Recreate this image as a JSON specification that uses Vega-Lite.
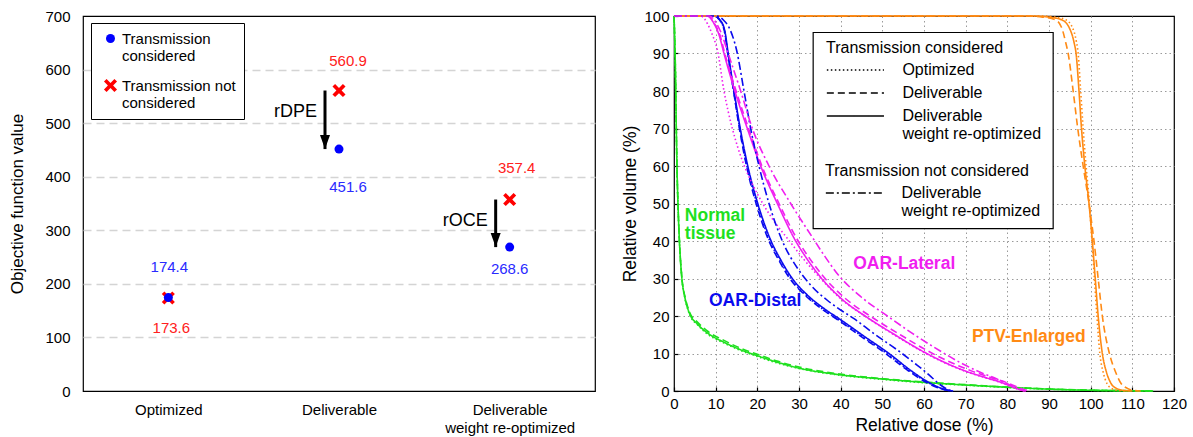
{
  "$schema": "https://vega.github.io/schema/vega-lite/v6.json",
  "padding": {"left": 8, "top": 8, "right": 5, "bottom": 0},
  "config": {
    "font": "Liberation Sans",
    "view": {"stroke": "black", "strokeWidth": 1.2},
    "axis": {"domain": false, "ticks": false, "labelColor": "black", "titleColor": "black", "titleFontWeight": "normal", "labelFontSize": 15, "labelOverlap": false}
  },
  "datasets": {
    "obj": [
      {"stage": "Optimized", "trans": "Transmission not considered", "value": 173.6},
      {"stage": "Deliverable", "trans": "Transmission not considered", "value": 560.9},
      {"stage": "Deliverable weight re-optimized", "trans": "Transmission not considered", "value": 357.4},
      {"stage": "Optimized", "trans": "Transmission considered", "value": 174.4},
      {"stage": "Deliverable", "trans": "Transmission considered", "value": 451.6},
      {"stage": "Deliverable weight re-optimized", "trans": "Transmission considered", "value": 268.6}
    ],
    "arrows": [
      {"stage": "Deliverable", "from": 560.9, "to": 451.6, "name": "rDPE"},
      {"stage": "Deliverable weight re-optimized", "from": 357.4, "to": 268.6, "name": "rOCE"}
    ],
    "box": [{"x1": 33.4, "x2": 91, "y1": 43.3, "y2": 95.6}],
    "dvhlab": [
      {"roi": "NT", "text": "Normal", "dose": 2.6, "vol": 46.8},
      {"roi": "NT", "text": "tissue", "dose": 2.6, "vol": 42},
      {"roi": "OD", "text": "OAR-Distal", "dose": 8.4, "vol": 23.9},
      {"roi": "OL", "text": "OAR-Lateral", "dose": 43, "vol": 34},
      {"roi": "PTV", "text": "PTV-Enlarged", "dose": 71.5, "vol": 14.5}
    ],
    "dvh": [
      {"roi":"NT","plan":"reopt","dose":0,"vol":100},{"roi":"NT","plan":"reopt","dose":0.15,"vol":95},{"roi":"NT","plan":"reopt","dose":0.35,"vol":85},{"roi":"NT","plan":"reopt","dose":0.55,"vol":70},{"roi":"NT","plan":"reopt","dose":0.75,"vol":58},{"roi":"NT","plan":"reopt","dose":0.95,"vol":50},{"roi":"NT","plan":"reopt","dose":1.3,"vol":40},{"roi":"NT","plan":"reopt","dose":1.9,"vol":30},{"roi":"NT","plan":"reopt","dose":2.6,"vol":25},{"roi":"NT","plan":"reopt","dose":3.3,"vol":22},{"roi":"NT","plan":"reopt","dose":4,"vol":20},{"roi":"NT","plan":"reopt","dose":5.5,"vol":18},{"roi":"NT","plan":"reopt","dose":8,"vol":15.5},{"roi":"NT","plan":"reopt","dose":12,"vol":13},{"roi":"NT","plan":"reopt","dose":16,"vol":11},{"roi":"NT","plan":"reopt","dose":20,"vol":9.4},{"roi":"NT","plan":"reopt","dose":25,"vol":7.6},{"roi":"NT","plan":"reopt","dose":30,"vol":6.1},{"roi":"NT","plan":"reopt","dose":40,"vol":4.3},{"roi":"NT","plan":"reopt","dose":50,"vol":3.2},{"roi":"NT","plan":"reopt","dose":60,"vol":2.3},{"roi":"NT","plan":"reopt","dose":70,"vol":1.6},{"roi":"NT","plan":"reopt","dose":80,"vol":1},{"roi":"NT","plan":"reopt","dose":90,"vol":0.5},{"roi":"NT","plan":"reopt","dose":100,"vol":0.2},{"roi":"NT","plan":"reopt","dose":110,"vol":0.05},{"roi":"NT","plan":"reopt","dose":115,"vol":0},
      {"roi":"NT","plan":"del","dose":0,"vol":100},{"roi":"NT","plan":"del","dose":0.15,"vol":95},{"roi":"NT","plan":"del","dose":0.35,"vol":85},{"roi":"NT","plan":"del","dose":0.55,"vol":70},{"roi":"NT","plan":"del","dose":0.75,"vol":58},{"roi":"NT","plan":"del","dose":0.95,"vol":50},{"roi":"NT","plan":"del","dose":1.3,"vol":40},{"roi":"NT","plan":"del","dose":1.9,"vol":30},{"roi":"NT","plan":"del","dose":2.6,"vol":25.3},{"roi":"NT","plan":"del","dose":3.3,"vol":22.4},{"roi":"NT","plan":"del","dose":4,"vol":20.4},{"roi":"NT","plan":"del","dose":5.5,"vol":18.5},{"roi":"NT","plan":"del","dose":8,"vol":16},{"roi":"NT","plan":"del","dose":12,"vol":13.5},{"roi":"NT","plan":"del","dose":16,"vol":11.4},{"roi":"NT","plan":"del","dose":20,"vol":9.8},{"roi":"NT","plan":"del","dose":25,"vol":7.9},{"roi":"NT","plan":"del","dose":30,"vol":6.4},{"roi":"NT","plan":"del","dose":40,"vol":4.5},{"roi":"NT","plan":"del","dose":50,"vol":3.3},{"roi":"NT","plan":"del","dose":60,"vol":2.4},{"roi":"NT","plan":"del","dose":70,"vol":1.7},{"roi":"NT","plan":"del","dose":80,"vol":1.05},{"roi":"NT","plan":"del","dose":90,"vol":0.55},{"roi":"NT","plan":"del","dose":100,"vol":0.22},{"roi":"NT","plan":"del","dose":110,"vol":0.06},{"roi":"NT","plan":"del","dose":115,"vol":0},
      {"roi":"NT","plan":"opt","dose":0,"vol":100},{"roi":"NT","plan":"opt","dose":0.15,"vol":95},{"roi":"NT","plan":"opt","dose":0.35,"vol":85},{"roi":"NT","plan":"opt","dose":0.55,"vol":70},{"roi":"NT","plan":"opt","dose":0.75,"vol":58},{"roi":"NT","plan":"opt","dose":0.95,"vol":50},{"roi":"NT","plan":"opt","dose":1.3,"vol":40},{"roi":"NT","plan":"opt","dose":1.9,"vol":30},{"roi":"NT","plan":"opt","dose":2.6,"vol":24.8},{"roi":"NT","plan":"opt","dose":3.3,"vol":21.8},{"roi":"NT","plan":"opt","dose":4,"vol":19.8},{"roi":"NT","plan":"opt","dose":5.5,"vol":17.8},{"roi":"NT","plan":"opt","dose":8,"vol":15.2},{"roi":"NT","plan":"opt","dose":12,"vol":12.8},{"roi":"NT","plan":"opt","dose":16,"vol":10.8},{"roi":"NT","plan":"opt","dose":20,"vol":9.2},{"roi":"NT","plan":"opt","dose":25,"vol":7.4},{"roi":"NT","plan":"opt","dose":30,"vol":6},{"roi":"NT","plan":"opt","dose":40,"vol":4.2},{"roi":"NT","plan":"opt","dose":50,"vol":3.1},{"roi":"NT","plan":"opt","dose":60,"vol":2.2},{"roi":"NT","plan":"opt","dose":70,"vol":1.55},{"roi":"NT","plan":"opt","dose":80,"vol":0.95},{"roi":"NT","plan":"opt","dose":90,"vol":0.48},{"roi":"NT","plan":"opt","dose":100,"vol":0.18},{"roi":"NT","plan":"opt","dose":110,"vol":0.04},{"roi":"NT","plan":"opt","dose":115,"vol":0},
      {"roi":"OD","plan":"reopt","dose":0,"vol":100},{"roi":"OD","plan":"reopt","dose":9.5,"vol":100},{"roi":"OD","plan":"reopt","dose":11,"vol":99},{"roi":"OD","plan":"reopt","dose":12.2,"vol":96},{"roi":"OD","plan":"reopt","dose":13,"vol":90},{"roi":"OD","plan":"reopt","dose":14.4,"vol":80},{"roi":"OD","plan":"reopt","dose":15.9,"vol":70},{"roi":"OD","plan":"reopt","dose":17.7,"vol":60},{"roi":"OD","plan":"reopt","dose":20.1,"vol":50},{"roi":"OD","plan":"reopt","dose":23.3,"vol":40},{"roi":"OD","plan":"reopt","dose":25.6,"vol":35},{"roi":"OD","plan":"reopt","dose":28.4,"vol":30},{"roi":"OD","plan":"reopt","dose":32,"vol":25.6},{"roi":"OD","plan":"reopt","dose":36,"vol":22},{"roi":"OD","plan":"reopt","dose":40,"vol":19},{"roi":"OD","plan":"reopt","dose":45.5,"vol":14.7},{"roi":"OD","plan":"reopt","dose":51.6,"vol":10},{"roi":"OD","plan":"reopt","dose":56.8,"vol":5.5},{"roi":"OD","plan":"reopt","dose":61,"vol":2.4},{"roi":"OD","plan":"reopt","dose":64.5,"vol":0.6},{"roi":"OD","plan":"reopt","dose":67,"vol":0},
      {"roi":"OD","plan":"del","dose":0,"vol":100},{"roi":"OD","plan":"del","dose":9.5,"vol":100},{"roi":"OD","plan":"del","dose":10.9,"vol":99},{"roi":"OD","plan":"del","dose":12.1,"vol":96},{"roi":"OD","plan":"del","dose":12.9,"vol":90},{"roi":"OD","plan":"del","dose":14.3,"vol":80},{"roi":"OD","plan":"del","dose":15.7,"vol":70},{"roi":"OD","plan":"del","dose":17.4,"vol":60},{"roi":"OD","plan":"del","dose":19.7,"vol":50},{"roi":"OD","plan":"del","dose":22.8,"vol":40},{"roi":"OD","plan":"del","dose":25.1,"vol":35},{"roi":"OD","plan":"del","dose":27.8,"vol":30},{"roi":"OD","plan":"del","dose":31.4,"vol":25.6},{"roi":"OD","plan":"del","dose":35.3,"vol":22},{"roi":"OD","plan":"del","dose":39.3,"vol":19},{"roi":"OD","plan":"del","dose":44.7,"vol":14.7},{"roi":"OD","plan":"del","dose":50.8,"vol":10},{"roi":"OD","plan":"del","dose":56.1,"vol":5.5},{"roi":"OD","plan":"del","dose":60.4,"vol":2.4},{"roi":"OD","plan":"del","dose":64,"vol":0.6},{"roi":"OD","plan":"del","dose":66.5,"vol":0},
      {"roi":"OD","plan":"opt","dose":0,"vol":100},{"roi":"OD","plan":"opt","dose":9.5,"vol":100},{"roi":"OD","plan":"opt","dose":10.9,"vol":99},{"roi":"OD","plan":"opt","dose":12.1,"vol":96},{"roi":"OD","plan":"opt","dose":12.9,"vol":90},{"roi":"OD","plan":"opt","dose":14.3,"vol":80},{"roi":"OD","plan":"opt","dose":15.8,"vol":70},{"roi":"OD","plan":"opt","dose":17.5,"vol":60},{"roi":"OD","plan":"opt","dose":19.9,"vol":50},{"roi":"OD","plan":"opt","dose":23,"vol":40},{"roi":"OD","plan":"opt","dose":25.3,"vol":35},{"roi":"OD","plan":"opt","dose":28,"vol":30},{"roi":"OD","plan":"opt","dose":31.6,"vol":25.6},{"roi":"OD","plan":"opt","dose":35.5,"vol":22},{"roi":"OD","plan":"opt","dose":39.5,"vol":19},{"roi":"OD","plan":"opt","dose":45,"vol":14.7},{"roi":"OD","plan":"opt","dose":51.1,"vol":10},{"roi":"OD","plan":"opt","dose":56.4,"vol":5.5},{"roi":"OD","plan":"opt","dose":60.7,"vol":2.4},{"roi":"OD","plan":"opt","dose":64.2,"vol":0.6},{"roi":"OD","plan":"opt","dose":66.7,"vol":0},
      {"roi":"OD","plan":"reopt_nt","dose":0,"vol":100},{"roi":"OD","plan":"reopt_nt","dose":10,"vol":100},{"roi":"OD","plan":"reopt_nt","dose":11.8,"vol":99},{"roi":"OD","plan":"reopt_nt","dose":13.6,"vol":96},{"roi":"OD","plan":"reopt_nt","dose":15,"vol":91},{"roi":"OD","plan":"reopt_nt","dose":16.8,"vol":80},{"roi":"OD","plan":"reopt_nt","dose":18.4,"vol":70},{"roi":"OD","plan":"reopt_nt","dose":20.4,"vol":60},{"roi":"OD","plan":"reopt_nt","dose":22.8,"vol":50},{"roi":"OD","plan":"reopt_nt","dose":26,"vol":40},{"roi":"OD","plan":"reopt_nt","dose":29.6,"vol":32.8},{"roi":"OD","plan":"reopt_nt","dose":33,"vol":28},{"roi":"OD","plan":"reopt_nt","dose":37,"vol":24},{"roi":"OD","plan":"reopt_nt","dose":40,"vol":21.6},{"roi":"OD","plan":"reopt_nt","dose":43.2,"vol":19.3},{"roi":"OD","plan":"reopt_nt","dose":48,"vol":15.3},{"roi":"OD","plan":"reopt_nt","dose":54.5,"vol":10.2},{"roi":"OD","plan":"reopt_nt","dose":58,"vol":7.2},{"roi":"OD","plan":"reopt_nt","dose":61.2,"vol":4.3},{"roi":"OD","plan":"reopt_nt","dose":63.5,"vol":2},{"roi":"OD","plan":"reopt_nt","dose":65.5,"vol":0.5},{"roi":"OD","plan":"reopt_nt","dose":66.5,"vol":0},
      {"roi":"OL","plan":"reopt","dose":0,"vol":100},{"roi":"OL","plan":"reopt","dose":8,"vol":100},{"roi":"OL","plan":"reopt","dose":9.6,"vol":98},{"roi":"OL","plan":"reopt","dose":10.8,"vol":95},{"roi":"OL","plan":"reopt","dose":12,"vol":90},{"roi":"OL","plan":"reopt","dose":14.6,"vol":80},{"roi":"OL","plan":"reopt","dose":17.6,"vol":70},{"roi":"OL","plan":"reopt","dose":20.8,"vol":60},{"roi":"OL","plan":"reopt","dose":24.8,"vol":50},{"roi":"OL","plan":"reopt","dose":29.2,"vol":40},{"roi":"OL","plan":"reopt","dose":32,"vol":35.1},{"roi":"OL","plan":"reopt","dose":35,"vol":30.6},{"roi":"OL","plan":"reopt","dose":40,"vol":24.8},{"roi":"OL","plan":"reopt","dose":46.4,"vol":19.6},{"roi":"OL","plan":"reopt","dose":53,"vol":15},{"roi":"OL","plan":"reopt","dose":60,"vol":10.4},{"roi":"OL","plan":"reopt","dose":65,"vol":7.6},{"roi":"OL","plan":"reopt","dose":70,"vol":5.3},{"roi":"OL","plan":"reopt","dose":75,"vol":3.5},{"roi":"OL","plan":"reopt","dose":78.5,"vol":2.3},{"roi":"OL","plan":"reopt","dose":81,"vol":1.2},{"roi":"OL","plan":"reopt","dose":83,"vol":0.4},{"roi":"OL","plan":"reopt","dose":84.5,"vol":0},
      {"roi":"OL","plan":"del","dose":0,"vol":100},{"roi":"OL","plan":"del","dose":8,"vol":100},{"roi":"OL","plan":"del","dose":9.7,"vol":98},{"roi":"OL","plan":"del","dose":11,"vol":95},{"roi":"OL","plan":"del","dose":12.2,"vol":90},{"roi":"OL","plan":"del","dose":14.9,"vol":80},{"roi":"OL","plan":"del","dose":17.9,"vol":70},{"roi":"OL","plan":"del","dose":21.1,"vol":60},{"roi":"OL","plan":"del","dose":25.2,"vol":50},{"roi":"OL","plan":"del","dose":29.8,"vol":40},{"roi":"OL","plan":"del","dose":32.7,"vol":35.1},{"roi":"OL","plan":"del","dose":35.8,"vol":30.6},{"roi":"OL","plan":"del","dose":41,"vol":24.8},{"roi":"OL","plan":"del","dose":47.6,"vol":19.6},{"roi":"OL","plan":"del","dose":54.3,"vol":15},{"roi":"OL","plan":"del","dose":61.4,"vol":10.4},{"roi":"OL","plan":"del","dose":66.5,"vol":7.6},{"roi":"OL","plan":"del","dose":71.5,"vol":5.3},{"roi":"OL","plan":"del","dose":76.3,"vol":3.5},{"roi":"OL","plan":"del","dose":79.7,"vol":2.3},{"roi":"OL","plan":"del","dose":82.1,"vol":1.2},{"roi":"OL","plan":"del","dose":84,"vol":0.4},{"roi":"OL","plan":"del","dose":85.3,"vol":0},
      {"roi":"OL","plan":"opt","dose":0,"vol":100},{"roi":"OL","plan":"opt","dose":6.5,"vol":100},{"roi":"OL","plan":"opt","dose":8,"vol":98},{"roi":"OL","plan":"opt","dose":9.2,"vol":95},{"roi":"OL","plan":"opt","dose":10.4,"vol":91},{"roi":"OL","plan":"opt","dose":12,"vol":80},{"roi":"OL","plan":"opt","dose":14,"vol":70},{"roi":"OL","plan":"opt","dose":15.3,"vol":65},{"roi":"OL","plan":"opt","dose":16.9,"vol":60},{"roi":"OL","plan":"opt","dose":18.9,"vol":55},{"roi":"OL","plan":"opt","dose":21.3,"vol":50},{"roi":"OL","plan":"opt","dose":24.2,"vol":45},{"roi":"OL","plan":"opt","dose":27.5,"vol":40.3},{"roi":"OL","plan":"opt","dose":31,"vol":35.3},{"roi":"OL","plan":"opt","dose":34.7,"vol":30.6},{"roi":"OL","plan":"opt","dose":39.8,"vol":24.8},{"roi":"OL","plan":"opt","dose":46.3,"vol":19.6},{"roi":"OL","plan":"opt","dose":52.8,"vol":15},{"roi":"OL","plan":"opt","dose":59.8,"vol":10.4},{"roi":"OL","plan":"opt","dose":64.8,"vol":7.6},{"roi":"OL","plan":"opt","dose":69.8,"vol":5.3},{"roi":"OL","plan":"opt","dose":74.8,"vol":3.5},{"roi":"OL","plan":"opt","dose":78.3,"vol":2.3},{"roi":"OL","plan":"opt","dose":80.8,"vol":1.2},{"roi":"OL","plan":"opt","dose":82.8,"vol":0.4},{"roi":"OL","plan":"opt","dose":84.2,"vol":0},
      {"roi":"OL","plan":"reopt_nt","dose":0,"vol":100},{"roi":"OL","plan":"reopt_nt","dose":8.5,"vol":100},{"roi":"OL","plan":"reopt_nt","dose":10.2,"vol":98},{"roi":"OL","plan":"reopt_nt","dose":11.5,"vol":95},{"roi":"OL","plan":"reopt_nt","dose":13,"vol":90},{"roi":"OL","plan":"reopt_nt","dose":16,"vol":80},{"roi":"OL","plan":"reopt_nt","dose":18.8,"vol":70},{"roi":"OL","plan":"reopt_nt","dose":22.8,"vol":60},{"roi":"OL","plan":"reopt_nt","dose":28,"vol":50},{"roi":"OL","plan":"reopt_nt","dose":33.2,"vol":41},{"roi":"OL","plan":"reopt_nt","dose":36.2,"vol":35.9},{"roi":"OL","plan":"reopt_nt","dose":39.4,"vol":31},{"roi":"OL","plan":"reopt_nt","dose":45,"vol":25},{"roi":"OL","plan":"reopt_nt","dose":51.2,"vol":20},{"roi":"OL","plan":"reopt_nt","dose":57.3,"vol":15.3},{"roi":"OL","plan":"reopt_nt","dose":64,"vol":10.6},{"roi":"OL","plan":"reopt_nt","dose":69,"vol":7.4},{"roi":"OL","plan":"reopt_nt","dose":73.5,"vol":5},{"roi":"OL","plan":"reopt_nt","dose":77.5,"vol":3.2},{"roi":"OL","plan":"reopt_nt","dose":80.5,"vol":1.7},{"roi":"OL","plan":"reopt_nt","dose":82.5,"vol":0.6},{"roi":"OL","plan":"reopt_nt","dose":84,"vol":0},
      {"roi":"PTV","plan":"reopt","dose":0,"vol":100},{"roi":"PTV","plan":"reopt","dose":86,"vol":100},{"roi":"PTV","plan":"reopt","dose":90,"vol":99.7},{"roi":"PTV","plan":"reopt","dose":93,"vol":99},{"roi":"PTV","plan":"reopt","dose":94.8,"vol":97},{"roi":"PTV","plan":"reopt","dose":96,"vol":93},{"roi":"PTV","plan":"reopt","dose":96.5,"vol":90},{"roi":"PTV","plan":"reopt","dose":97.2,"vol":80},{"roi":"PTV","plan":"reopt","dose":97.8,"vol":70},{"roi":"PTV","plan":"reopt","dose":98.6,"vol":60},{"roi":"PTV","plan":"reopt","dose":99.6,"vol":50},{"roi":"PTV","plan":"reopt","dose":100.4,"vol":40},{"roi":"PTV","plan":"reopt","dose":101.1,"vol":30},{"roi":"PTV","plan":"reopt","dose":101.8,"vol":20},{"roi":"PTV","plan":"reopt","dose":102.8,"vol":10},{"roi":"PTV","plan":"reopt","dose":103.8,"vol":5},{"roi":"PTV","plan":"reopt","dose":104.9,"vol":2},{"roi":"PTV","plan":"reopt","dose":106.2,"vol":0.7},{"roi":"PTV","plan":"reopt","dose":108,"vol":0.15},{"roi":"PTV","plan":"reopt","dose":110,"vol":0},
      {"roi":"PTV","plan":"opt","dose":0,"vol":100},{"roi":"PTV","plan":"opt","dose":88,"vol":100},{"roi":"PTV","plan":"opt","dose":91.5,"vol":99.7},{"roi":"PTV","plan":"opt","dose":94,"vol":99},{"roi":"PTV","plan":"opt","dose":95.6,"vol":97},{"roi":"PTV","plan":"opt","dose":96.6,"vol":93},{"roi":"PTV","plan":"opt","dose":97,"vol":90},{"roi":"PTV","plan":"opt","dose":97.6,"vol":80},{"roi":"PTV","plan":"opt","dose":98.2,"vol":70},{"roi":"PTV","plan":"opt","dose":98.9,"vol":60},{"roi":"PTV","plan":"opt","dose":99.7,"vol":50},{"roi":"PTV","plan":"opt","dose":100.3,"vol":40},{"roi":"PTV","plan":"opt","dose":100.9,"vol":30},{"roi":"PTV","plan":"opt","dose":101.5,"vol":20},{"roi":"PTV","plan":"opt","dose":102.2,"vol":10},{"roi":"PTV","plan":"opt","dose":103,"vol":5},{"roi":"PTV","plan":"opt","dose":103.9,"vol":2},{"roi":"PTV","plan":"opt","dose":105,"vol":0.7},{"roi":"PTV","plan":"opt","dose":106.5,"vol":0.15},{"roi":"PTV","plan":"opt","dose":108.5,"vol":0},
      {"roi":"PTV","plan":"del","dose":0,"vol":100},{"roi":"PTV","plan":"del","dose":84,"vol":100},{"roi":"PTV","plan":"del","dose":88.5,"vol":99.7},{"roi":"PTV","plan":"del","dose":91.5,"vol":99},{"roi":"PTV","plan":"del","dose":93,"vol":97},{"roi":"PTV","plan":"del","dose":94,"vol":93},{"roi":"PTV","plan":"del","dose":94.6,"vol":90},{"roi":"PTV","plan":"del","dose":95.8,"vol":80},{"roi":"PTV","plan":"del","dose":96.9,"vol":70},{"roi":"PTV","plan":"del","dose":98.2,"vol":60},{"roi":"PTV","plan":"del","dose":99.6,"vol":50},{"roi":"PTV","plan":"del","dose":100.8,"vol":40},{"roi":"PTV","plan":"del","dose":101.8,"vol":30},{"roi":"PTV","plan":"del","dose":102.8,"vol":20},{"roi":"PTV","plan":"del","dose":104.5,"vol":10},{"roi":"PTV","plan":"del","dose":106,"vol":5},{"roi":"PTV","plan":"del","dose":107.3,"vol":2},{"roi":"PTV","plan":"del","dose":108.8,"vol":0.7},{"roi":"PTV","plan":"del","dose":110.3,"vol":0.15},{"roi":"PTV","plan":"del","dose":112,"vol":0}
    ]
  },
  "spacing": 79,
  "bounds": "flush",
  "resolve": {
    "scale": {"color": "independent", "shape": "independent", "strokeDash": "independent"},
    "legend": {"color": "independent", "shape": "independent", "strokeDash": "independent"}
  },
  "hconcat": [
    {
      "width": 512,
      "height": 375,
      "layer": [
        {
          "data": {"name": "obj"},
          "mark": {"type": "point", "filled": true, "size": 81, "opacity": 1},
          "encoding": {
            "x": {"field": "stage", "type": "nominal", "sort": ["Optimized", "Deliverable", "Deliverable weight re-optimized"], "scale": {"type": "point", "padding": 0.5}, "title": null,
              "axis": {"labelPadding": 11, "labelFontSize": 15, "labelLineHeight": 18, "labelAngle": 0, "grid": false,
                "labelExpr": "datum.label == 'Deliverable weight re-optimized' ? ['Deliverable', 'weight re-optimized'] : datum.label"}},
            "y": {"field": "value", "type": "quantitative", "scale": {"domain": [0, 700], "nice": false}, "title": "Objective function value",
              "axis": {"values": [0, 100, 200, 300, 400, 500, 600, 700], "labelPadding": 13, "titlePadding": 18, "titleFontSize": 17, "labelFontSize": 15,
                "gridColor": "#d4d4d4", "gridDash": [8, 5], "gridWidth": 1.5,
                "gridOpacity": {"condition": {"test": "datum.value == 0 || datum.value == 700", "value": 0}, "value": 1}}},
            "shape": {"field": "trans", "type": "nominal",
              "scale": {"domain": ["Transmission considered", "Transmission not considered"], "range": ["circle", "M-1.45,-0.87L-0.87,-1.45L0,-0.58L0.87,-1.45L1.45,-0.87L0.58,0L1.45,0.87L0.87,1.45L0,0.58L-0.87,1.45L-1.45,0.87L-0.58,0Z"]},
              "legend": {"title": null, "orient": "none", "legendX": 8, "legendY": 7, "strokeColor": "black", "fillColor": "white", "padding": 8, "symbolOffset": 4,
                "labelFontSize": 15, "labelOffset": 4, "rowPadding": 14, "symbolSize": 81, "labelLimit": 300,
                "labelExpr": "datum.label == 'Transmission considered' ? ['Transmission', 'considered'] : ['Transmission not', 'considered']"}},
            "color": {"field": "trans", "type": "nominal",
              "scale": {"domain": ["Transmission considered", "Transmission not considered"], "range": ["#0000ff", "#ff0000"]},
              "legend": {"title": null, "orient": "none", "legendX": 8, "legendY": 7, "strokeColor": "black", "fillColor": "white", "padding": 8, "symbolOffset": 4,
                "labelFontSize": 15, "labelOffset": 4, "rowPadding": 14, "symbolSize": 81, "labelLimit": 300,
                "labelExpr": "datum.label == 'Transmission considered' ? ['Transmission', 'considered'] : ['Transmission not', 'considered']"}}
          }
        },
        {
          "data": {"name": "obj"},
          "transform": [{"filter": "datum.trans == 'Transmission considered' && datum.stage == 'Optimized'"}],
          "mark": {"type": "text", "fontSize": 15, "color": "#2a2aff", "dy": -31, "dx": 1},
          "encoding": {"x": {"field": "stage", "type": "nominal", "sort": ["Optimized", "Deliverable", "Deliverable weight re-optimized"]}, "y": {"field": "value", "type": "quantitative"}, "text": {"field": "value", "type": "quantitative", "format": ".1f"}}
        },
        {
          "data": {"name": "obj"},
          "transform": [{"filter": "datum.trans == 'Transmission considered' && datum.stage == 'Deliverable'"}],
          "mark": {"type": "text", "fontSize": 15, "color": "#2a2aff", "dy": 38, "dx": 9},
          "encoding": {"x": {"field": "stage", "type": "nominal", "sort": ["Optimized", "Deliverable", "Deliverable weight re-optimized"]}, "y": {"field": "value", "type": "quantitative"}, "text": {"field": "value", "type": "quantitative", "format": ".1f"}}
        },
        {
          "data": {"name": "obj"},
          "transform": [{"filter": "datum.trans == 'Transmission considered' && datum.stage == 'Deliverable weight re-optimized'"}],
          "mark": {"type": "text", "fontSize": 15, "color": "#2a2aff", "dy": 22, "dx": 0},
          "encoding": {"x": {"field": "stage", "type": "nominal", "sort": ["Optimized", "Deliverable", "Deliverable weight re-optimized"]}, "y": {"field": "value", "type": "quantitative"}, "text": {"field": "value", "type": "quantitative", "format": ".1f"}}
        },
        {
          "data": {"name": "obj"},
          "transform": [{"filter": "datum.trans == 'Transmission not considered' && datum.stage == 'Optimized'"}],
          "mark": {"type": "text", "fontSize": 15, "color": "#ff2020", "dy": 30, "dx": 3},
          "encoding": {"x": {"field": "stage", "type": "nominal", "sort": ["Optimized", "Deliverable", "Deliverable weight re-optimized"]}, "y": {"field": "value", "type": "quantitative"}, "text": {"field": "value", "type": "quantitative", "format": ".1f"}}
        },
        {
          "data": {"name": "obj"},
          "transform": [{"filter": "datum.trans == 'Transmission not considered' && datum.stage == 'Deliverable'"}],
          "mark": {"type": "text", "fontSize": 15, "color": "#ff2020", "dy": -30, "dx": 9},
          "encoding": {"x": {"field": "stage", "type": "nominal", "sort": ["Optimized", "Deliverable", "Deliverable weight re-optimized"]}, "y": {"field": "value", "type": "quantitative"}, "text": {"field": "value", "type": "quantitative", "format": ".1f"}}
        },
        {
          "data": {"name": "obj"},
          "transform": [{"filter": "datum.trans == 'Transmission not considered' && datum.stage == 'Deliverable weight re-optimized'"}],
          "mark": {"type": "text", "fontSize": 15, "color": "#ff2020", "dy": -32, "dx": 7},
          "encoding": {"x": {"field": "stage", "type": "nominal", "sort": ["Optimized", "Deliverable", "Deliverable weight re-optimized"]}, "y": {"field": "value", "type": "quantitative"}, "text": {"field": "value", "type": "quantitative", "format": ".1f"}}
        },
        {
          "data": {"name": "arrows"},
          "mark": {"type": "rule", "strokeWidth": 3, "color": "black", "xOffset": -14},
          "encoding": {"x": {"field": "stage", "type": "nominal", "sort": ["Optimized", "Deliverable", "Deliverable weight re-optimized"]}, "y": {"field": "from", "type": "quantitative"}, "y2": {"field": "to"}}
        },
        {
          "data": {"name": "arrows"},
          "mark": {"type": "point", "filled": true, "opacity": 1, "color": "black", "size": 400, "shape": "M-0.5,-1.4L0.5,-1.4L0,0Z", "xOffset": -14},
          "encoding": {"x": {"field": "stage", "type": "nominal", "sort": ["Optimized", "Deliverable", "Deliverable weight re-optimized"]}, "y": {"field": "to", "type": "quantitative"}}
        },
        {
          "data": {"name": "arrows"},
          "mark": {"type": "text", "fontSize": 18, "color": "black", "align": "right", "dx": -22, "dy": 21},
          "encoding": {"x": {"field": "stage", "type": "nominal", "sort": ["Optimized", "Deliverable", "Deliverable weight re-optimized"]}, "y": {"field": "from", "type": "quantitative"}, "text": {"field": "name"}}
        }
      ]
    },
    {
      "width": 500,
      "height": 375,
      "encoding": {
        "x": {"type": "quantitative", "title": "Relative dose (%)", "scale": {"domain": [0, 120], "nice": false},
          "axis": {"values": [0, 10, 20, 30, 40, 50, 60, 70, 80, 90, 100, 110, 120], "labelPadding": 9, "titlePadding": 5, "titleFontSize": 17.5, "labelFontSize": 15, "labelOverlap": false, "labelFlush": false,
            "ticks": true, "tickSize": -4, "tickColor": "black", "tickWidth": 1.2,
            "gridColor": "#9a9a9a", "gridDash": [1.5, 3], "gridWidth": 1,
            "gridOpacity": {"condition": {"test": "datum.value == 0 || datum.value == 120", "value": 0}, "value": 1}}},
        "y": {"type": "quantitative", "title": "Relative volume (%)", "scale": {"domain": [0, 100], "nice": false},
          "axis": {"values": [0, 10, 20, 30, 40, 50, 60, 70, 80, 90, 100], "labelPadding": 9, "titlePadding": 4, "titleFontSize": 17.5, "labelFontSize": 15, "labelOverlap": false, "labelFlush": false,
            "ticks": true, "tickSize": -4, "tickColor": "black", "tickWidth": 1.2,
            "gridColor": "#9a9a9a", "gridDash": [1.5, 3], "gridWidth": 1,
            "gridOpacity": {"condition": {"test": "datum.value == 0 || datum.value == 100", "value": 0}, "value": 1}}}
      },
      "layer": [
        {
          "data": {"name": "box"},
          "mark": {"type": "rect", "fill": "white", "stroke": "black", "strokeWidth": 1.2},
          "encoding": {
            "x": {"field": "x1"},
            "x2": {"field": "x2"},
            "y": {"field": "y1"},
            "y2": {"field": "y2"}
          }
        },
        {
          "data": {"name": "dvh"},
          "transform": [{"filter": "datum.plan != 'reopt_nt'"}],
          "mark": {"type": "line", "strokeWidth": 1.6, "interpolate": "monotone"},
          "encoding": {
            "x": {"field": "dose"},
            "y": {"field": "vol"},
            "color": {"field": "roi", "type": "nominal", "scale": {"domain": ["NT", "OD", "OL", "PTV"], "range": ["#1ee01e", "#0a0aee", "#f01ef0", "#ff8a14"]}, "legend": null},
            "strokeDash": {"field": "plan", "type": "nominal",
              "scale": {"domain": ["opt", "del", "reopt"], "range": [[1.5, 2.5], [7, 4], [1, 0]]},
              "legend": {"title": "Transmission considered", "orient": "none", "legendX": 152, "legendY": 24, "padding": 0,
                "symbolType": "M-4,0L4,0", "symbolSize": 204, "symbolStrokeColor": "black", "symbolStrokeWidth": 1.5, "symbolOffset": 21.4, "labelOffset": 39,
                "labelFontSize": 16, "titleFontSize": 16, "titleFontWeight": "normal", "titlePadding": 6, "rowPadding": 7, "labelLimit": 300, "titleLimit": 300,
                "labelExpr": "datum.value == 'opt' ? 'Optimized' : datum.value == 'del' ? 'Deliverable' : ['Deliverable', 'weight re-optimized']"}}
          }
        },
        {
          "data": {"name": "dvh"},
          "transform": [{"filter": "datum.plan == 'reopt_nt'"}],
          "mark": {"type": "line", "strokeWidth": 1.6, "interpolate": "monotone"},
          "encoding": {
            "x": {"field": "dose"},
            "y": {"field": "vol"},
            "color": {"field": "roi", "type": "nominal", "legend": null},
            "strokeDash": {"field": "plan", "type": "nominal",
              "scale": {"domain": ["reopt_nt"], "range": [[8, 3, 2, 3]]},
              "legend": {"title": "Transmission not considered", "orient": "none", "legendX": 151, "legendY": 147, "padding": 0,
                "symbolType": "M-4,0L4,0", "symbolSize": 204, "symbolStrokeColor": "black", "symbolStrokeWidth": 1.5, "symbolOffset": 21.4, "labelOffset": 39,
                "labelFontSize": 16, "titleFontSize": 16, "titleFontWeight": "normal", "titlePadding": 6, "rowPadding": 7, "labelLimit": 300, "titleLimit": 300,
                "labelExpr": "['Deliverable', 'weight re-optimized']"}}
          }
        },
        {
          "data": {"name": "dvhlab"},
          "mark": {"type": "text", "align": "left", "baseline": "middle", "fontWeight": "bold", "fontSize": 17.5},
          "encoding": {
            "x": {"field": "dose"},
            "y": {"field": "vol"},
            "text": {"field": "text"},
            "color": {"field": "roi", "type": "nominal", "legend": null}
          }
        }
      ],
      "resolve": {"scale": {"strokeDash": "independent"}, "legend": {"strokeDash": "independent"}}
    }
  ]
}
